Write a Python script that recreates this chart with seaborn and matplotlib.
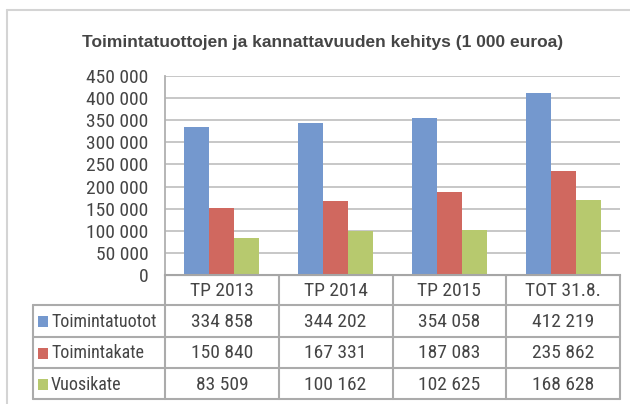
import matplotlib
matplotlib.use("Agg")
import matplotlib.pyplot as plt
import pandas as pd
import seaborn as sns

# data
kaudet = ["TP 2013", "TP 2014", "TP 2015", "TOT 31.8."]
sarjat = ["Toimintatuotot", "Toimintakate", "Vuosikate"]
toimintatuotot = [334858, 344202, 354058, 412219]
toimintakate = [150840, 167331, 187083, 235862]
vuosikate = [83509, 100162, 102625, 168628]
y_ticks = [0, 50000, 100000, 150000, 200000, 250000, 300000, 350000, 400000, 450000]

varit = ["#7498CE", "#D0685F", "#B7C96E"]
teksti = "#454545"
otsikko = "Toimintatuottojen ja kannattavuuden kehitys (1 000 euroa)"

def fmt(v):
    return f"{v:,.0f}".replace(",", " ")

df = pd.DataFrame({
    "kausi": kaudet * 3,
    "sarja": [s for s in sarjat for _ in kaudet],
    "arvo": toimintatuotot + toimintakate + vuosikate,
})

sns.set_theme(style="white")
# narrow font like Arial Narrow in the original
plt.rcParams["font.family"] = ["Roboto Condensed", "Liberation Sans", "DejaVu Sans"]
fs = 14

W, H = 630, 404
fig = plt.figure(figsize=(W / 100, H / 100), dpi=100)
fig.patch.set_facecolor("white")

# plot area (pixels)
L, R, T, B = 165, 620, 76, 275
ax = fig.add_axes([L / W, 1 - B / H, (R - L) / W, (B - T) / H])
sns.barplot(data=df, x="kausi", y="arvo", hue="sarja", palette=varit,
            width=0.66, legend=False, ax=ax, saturation=1, linewidth=0)
ax.set_ylim(0, 450000)
ax.set_xlim(-0.5, len(kaudet) - 0.5)
ax.set_yticks(y_ticks)
ax.set_yticklabels([fmt(v) for v in y_ticks], fontsize=fs, color=teksti)
ax.set_xticklabels([])
ax.tick_params(axis="both", length=0)
ax.tick_params(axis="y", pad=12)
ax.set_xlabel("")
ax.set_ylabel("")
ax.yaxis.grid(True, color="#C3C3C3", linewidth=1.3)
ax.set_axisbelow(True)
for s in ["top", "right"]:
    ax.spines[s].set_visible(False)
ax.spines["left"].set_color("#B0B0B0")
ax.spines["left"].set_linewidth(1.3)
ax.spines["bottom"].set_color("#A6A6A6")
ax.spines["bottom"].set_linewidth(1.5)

# overlay in pixel coords: title, data table, chart border
ov = fig.add_axes([0, 0, 1, 1], zorder=-1)
ov.set_xlim(0, W)
ov.set_ylim(H, 0)
ov.axis("off")
ov.patch.set_alpha(0)

ov.plot([7, W], [10, 10], color="#D4D4D4", lw=1.5)
ov.plot([7, 7], [10, H], color="#D4D4D4", lw=1.5)

ov.text(323, 42, otsikko, ha="center", va="center", fontsize=12.5,
        fontweight="bold", color=teksti, family=["Liberation Sans", "DejaVu Sans"])

viiva = "#ABABAB"
TL = 33
rivit = [B, 305, 337, 368, 399]
colw = (R - L) / len(kaudet)
ov.plot([L, R], [rivit[0], rivit[0]], color=viiva, lw=1.5)
for y in rivit[1:]:
    ov.plot([TL, R], [y, y], color=viiva, lw=1.5)
ov.plot([TL, TL], [rivit[1], rivit[-1]], color=viiva, lw=1.5)
for i in range(len(kaudet) + 1):
    x = L + i * colw
    ov.plot([x, x], [rivit[0], rivit[-1]], color=viiva, lw=1.5)

for i, k in enumerate(kaudet):
    ov.text(L + (i + 0.5) * colw, (rivit[0] + rivit[1]) / 2 + 1, k,
            ha="center", va="center", fontsize=fs, color=teksti)

arvot = [toimintatuotot, toimintakate, vuosikate]
for r, (nimi, vals, c) in enumerate(zip(sarjat, arvot, varit)):
    yc = (rivit[r + 1] + rivit[r + 2]) / 2 + 1
    ov.add_patch(plt.Rectangle((38, yc - 6), 10, 11, color=c, lw=0))
    ov.text(51, yc, nimi, ha="left", va="center", fontsize=13, color=teksti)
    for i, v in enumerate(vals):
        ov.text(L + (i + 0.5) * colw, yc, fmt(v), ha="center", va="center",
                fontsize=fs, color=teksti)

fig.savefig("out.png", dpi=100)
